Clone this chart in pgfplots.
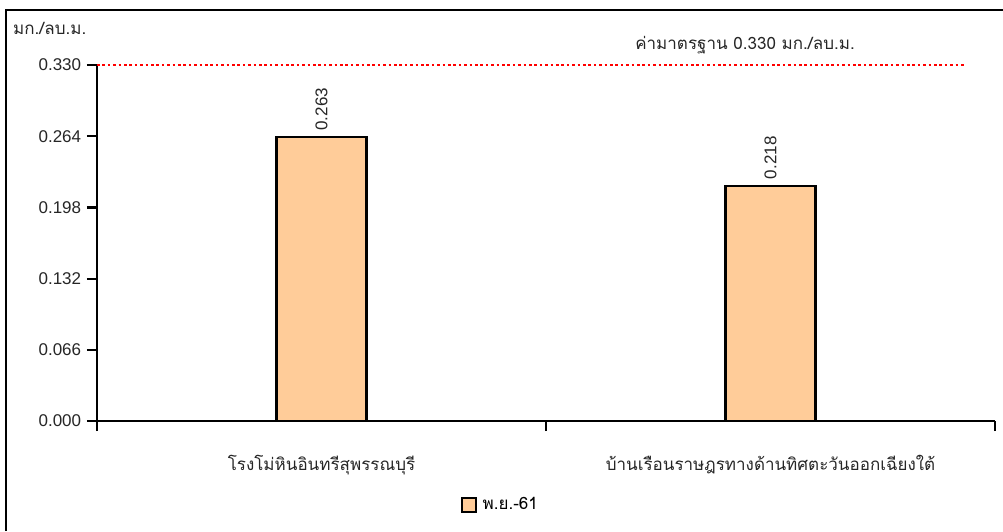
\documentclass[border=0pt]{standalone}
\usepackage{fontspec}
\usepackage{pgfplots}
\pgfplotsset{compat=1.18}
\setmainfont{Liberation Sans}
\newfontfamily\thaifont[Script=Thai]{Loma}
\definecolor{barfill}{HTML}{FFCC99}
\definecolor{stdred}{HTML}{FF0000}
\begin{document}
\fontsize{17pt}{20pt}\selectfont
\begin{tikzpicture}
\useasboundingbox (0pt,0pt) rectangle (1003pt,-531pt);
\draw[line width=2.2pt] (6pt,-531pt) -- (6pt,-10pt) -- (1003pt,-10pt);
\begin{axis}[
  at={(97pt,-421pt)}, anchor=south west,
  scale only axis, width=898pt, height=356pt,
  xmin=-0.5, xmax=1.5, ymin=0, ymax=0.33,
  axis x line*=bottom, axis y line*=left,
  axis line style={line width=2.2pt, -},
  every tick/.style={black, line width=2.2pt},
  tick align=outside,
  major tick length=10pt,
  xtick={-0.5,0.5,1.5}, xticklabels={},
  extra x ticks={0,1},
  extra x tick labels={{\thaifont โรงโม่หินอินทรีสุพรรณบุรี},{\thaifont บ้านเรือนราษฎรทางด้านทิศตะวันออกเฉียงใต้}},
  extra x tick style={major tick length=0pt, xticklabel style={yshift=-28pt}},
  ytick={0,0.066,0.132,0.198,0.264,0.33},
  yticklabel style={/pgf/number format/.cd, fixed, fixed zerofill, precision=3},
  /pgf/number format/assume math mode=true,
  ticklabel style={font=\fontsize{17pt}{20pt}\selectfont, text=black!85},
  clip=false,
  ybar, bar width=90pt,
  nodes near coords,
  every node near coord/.append style={rotate=90, anchor=west, text=black!85, font=\fontsize{17pt}{20pt}\selectfont, /pgf/number format/.cd, fixed, fixed zerofill, precision=3},
  legend style={at={(0.449,-0.236)}, anchor=center, draw=none, fill=none, font=\thaifont\fontsize{17pt}{20pt}\selectfont, inner sep=0pt},
  legend image code/.code={\draw[fill=barfill, draw=black, line width=2.2pt] (0pt,-7pt) rectangle (14pt,7pt); \path (18pt,0pt);},
]
\addplot[fill=barfill, draw=black, line width=2.2pt] coordinates {(0,0.263) (1,0.218)};
\addlegendentry{พ.ย.-61}
\addplot[ybar=0pt, sharp plot, stdred, line width=2.6pt, dash pattern=on 2.6pt off 2.8pt, nodes near coords=, forget plot] coordinates {(-0.5,0.33) (1.433,0.33)};
\end{axis}
\node[anchor=west, inner sep=0pt, text=black!85, font=\thaifont\fontsize{17pt}{20pt}\selectfont] at (13pt,-28pt) {มก./ลบ.ม.};
\node[anchor=center, inner sep=0pt, text=black!85, font=\thaifont\fontsize{17pt}{20pt}\selectfont] at (745pt,-45pt) {ค่ามาตรฐาน 0.330 มก./ลบ.ม.};
\end{tikzpicture}
\end{document}
